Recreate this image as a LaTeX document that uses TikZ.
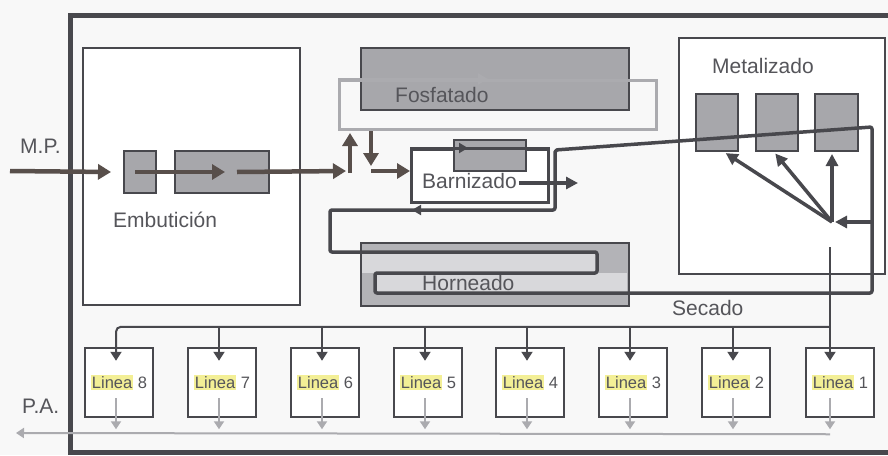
\documentclass[tikz,border=0pt]{standalone}
\usepackage{fontspec}
\setmainfont{Liberation Sans}
\usetikzlibrary{arrows.meta,calc}
\definecolor{dk}{HTML}{48484D}
\definecolor{fl}{HTML}{584F4B}
\definecolor{gfill}{HTML}{A7A7AB}
\definecolor{hfill}{HTML}{B3B3B7}
\definecolor{lch}{HTML}{D8D8DB}
\definecolor{lgr}{HTML}{ABABAF}
\definecolor{txt}{HTML}{55555A}
\definecolor{hly}{HTML}{F3EF96}
\definecolor{bgc}{HTML}{F8F8F8}
\newcommand{\hlw}[1]{{\setlength{\fboxsep}{1pt}\colorbox{hly}{#1}}}
\begin{document}
\begin{tikzpicture}[x=1pt,y=-1pt,
  lbl/.style={text=txt, font=\fontsize{21}{24}\selectfont, inner sep=0pt, anchor=base west},
  gbox/.style={draw=dk, line width=2pt, fill=gfill, inner sep=0pt, anchor=north west},
  wbox/.style={draw=dk, line width=1.6pt, fill=white, inner sep=0pt, anchor=north west},
  flow/.style={draw=fl, line width=4.5pt, -{Triangle[length=13pt,width=15pt]}},
  marr/.style={draw=dk, line width=3.5pt, -{Triangle[length=12pt,width=12pt]}},
  conv/.style={draw=dk, line width=3.5pt, line join=round},
  dist/.style={draw=dk, line width=2pt},
  darr/.style={dist, -{Triangle[length=9pt,width=11pt]}},
  oarr/.style={draw=lgr, line width=2pt, -{Triangle[length=8pt,width=10pt]}},
  lbox/.style={draw=dk, line width=2.5pt, fill=white, minimum width=68pt, minimum height=69pt, inner sep=0pt, font=\fontsize{16.5}{18}\selectfont, text=txt}
]
\fill[bgc] (0,0) rectangle (888,455);
\useasboundingbox (0,0) rectangle (888,455);
\draw[line width=5pt, dk] (895,15) -- (70,15) -- (70,452) -- (895,452);

% Embuticion
\node[wbox, minimum width=217pt, minimum height=257pt] (emb) at (82,47) {};
\node[gbox, minimum width=32pt, minimum height=42pt] (e1) at (123,150) {};
\node[gbox, minimum width=94pt, minimum height=42pt] (e2) at (174,150) {};
\node[lbl] (embl) at (113,227) {Embutición};

% Metalizado box
\node[wbox, minimum width=206pt, minimum height=236pt] (met) at (678,37) {};
\node[lbl] (metl) at (712,73) {Metalizado};
\node[gbox, minimum width=42pt, minimum height=57pt] (m1) at (695,93) {};
\node[gbox, minimum width=42pt, minimum height=57pt] (m2) at (755,93) {};
\node[gbox, minimum width=43pt, minimum height=57pt] (m3) at (814,93) {};

% Fosfatado
\node[gbox, minimum width=268pt, minimum height=62pt] (fosg) at (360,47) {};
\node[draw=lgr, line width=3pt, minimum width=317pt, minimum height=49pt, inner sep=0pt, anchor=north west] (fosl) at (338,79) {};
\draw[lgr, line width=3pt, -{Triangle[length=10pt,width=11pt]}] (fosl.north west) -- ++(150,0);
\node[lbl] (fost) at (395,102) {Fosfatado};

% Barnizado
\node[draw=dk, line width=3pt, fill=white, minimum width=137pt, minimum height=53pt, inner sep=0pt, anchor=north west] (bar) at (410,148) {};
\node[gbox, minimum width=72pt, minimum height=31pt] (barg) at (453,139) {};
\draw[dk, line width=3pt] (bar.north west) -- (bar.north east);
\draw[dk, line width=3pt, -{Triangle[length=9pt,width=10pt]}] (bar.north west) -- ++(58,0);
\node[lbl] (barl) at (422,188) {Barnizado};
\coordinate (barout) at (578,183);
\draw[marr] ([xshift=2pt]barl.east |- barout) -- (barout);

% Horneado
\node[draw=dk, line width=2pt, fill=hfill, minimum width=268pt, minimum height=63pt, inner sep=0pt, anchor=north west] (hor) at (360,242) {};
\fill[lch] (362,253) rectangle (597,273);
\fill[lch] (375,273) rectangle (627,293);
\node[lbl] (horl) at (422,290) {Horneado};

% conveyor loop
\draw[conv, rounded corners=2pt] (555,150) -- (555,210) -- (330,210) -- (330,252) -- (597,252) -- (597,273) -- (375,273) -- (375,293) -- (872,293) -- (872,127) -- cycle;
\draw[dk, line width=2pt, -{Triangle[length=9pt,width=10pt]}] (428,210) -- (412,210);

% Metalizado arrows
\coordinate (hub) at (832,222);
\coordinate (metin) at (872,222);
\draw[marr, shorten >=3pt] (metin) -- (hub);
\draw[marr, shorten >=2pt] (hub) -- ([xshift=7pt]m1.south);
\draw[marr, shorten >=2pt] (hub) -- ([xshift=-3pt]m2.south);
\draw[marr, shorten >=2pt] (hub) -- (hub |- m3.south);

% main flow
\coordinate (mpin) at (10,171);
\coordinate (up) at (350,171);
\coordinate (dn) at (371,171);
\draw[flow] (mpin) -- ([xshift=-12pt]e1.west);
\draw[flow] ([xshift=12pt]e1.west) -- ([xshift=51pt]e2.west);
\draw[flow] ([xshift=63pt]e2.west) -- ([xshift=-4pt]up);
\draw[flow, shorten >=2pt] ($(up)+(0,2)$) -- (up |- fosl.south);
\draw[flow] (fosl.south -| dn) -- ($(dn)+(0,-5)$);
\draw[flow] (dn) -- (bar.west |- dn);

% labels
\node[lbl] (mp) at (20,153) {M.P.};
\node[lbl] (pa) at (22,413) {P.A.};
\node[lbl] (sec) at (672,315) {Secado};

% Lineas
\foreach \n/\x in {8/119,7/222,6/325,5/428,4/530,3/633,2/736,1/840}
  \node[lbox] (l\n) at (\x,382.5) {\hlw{Linea} \n};

\coordinate (secs) at (830,247);
\draw[darr] (secs) -- ($(l1.north)+(-10,14)$);
\draw[darr, rounded corners=5pt] ($(l1.north)+(-10,-20)$) -| ($(l8.north)+(-3,14)$);
\foreach \n in {7,6,5,4,3,2}
  \draw[darr] ($(l\n.north)+(-3,-20)$) -- ($(l\n.north)+(-3,14)$);
\foreach \n in {8,7,6,5,4,3,2}
  \draw[oarr] ($(l\n.south)+(-3,-20)$) -- ($(l\n.south)+(-3,11)$);
\draw[oarr] ($(l1.south)+(-10,-20)$) -- ($(l1.south)+(-10,11)$);
\coordinate (paout) at (16,433);
\draw[oarr] ($(l1.south)+(-10,16)$) -- (paout);
\end{tikzpicture}
\end{document}
